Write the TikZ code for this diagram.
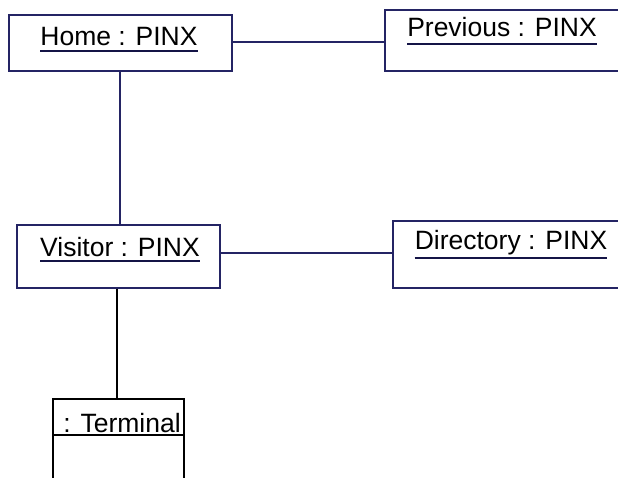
\documentclass[tikz,border=0pt]{standalone}
\usepackage{fontspec}
\setmainfont{Liberation Sans}
\definecolor{navy}{RGB}{36,36,100}
\definecolor{ulnavy}{RGB}{20,20,70}
\begin{document}
\begin{tikzpicture}[x=1pt,y=-1pt,
  objbox/.style={draw=navy,line width=1.4pt,rectangle,inner sep=0pt},
  lbl/.style={inner sep=0pt,anchor=base,font=\fontsize{26.5}{30}\selectfont},
  conn/.style={draw=navy,line width=1.4pt},
  uline/.style={draw=ulnavy,line width=2.6pt}]
\useasboundingbox (0,0) rectangle (618,478);
\clip (0,0) rectangle (618,478);
\fill[white] (0,0) rectangle (618,478);
% boxes
\node[objbox,minimum width=223pt,minimum height=56pt] (home) at (120.5,43) {};
\node[objbox,minimum width=255pt,minimum height=61pt] (prev) at (512.5,40.5) {};
\node[objbox,minimum width=203pt,minimum height=63pt] (visitor) at (118.5,256.5) {};
\node[objbox,minimum width=247pt,minimum height=67pt] (dir) at (516.5,254.5) {};
\node[draw=black,line width=1.4pt,rectangle,inner sep=0pt,minimum width=131pt,minimum height=100pt] (term) at (118.5,449) {};
\coordinate (divl) at (53,435);
\coordinate (divr) at (184,435);
\draw[black,line width=1.4pt] (divl) -- (divr);
% labels
\node[lbl] (homet) at (119,46) {Home : PINX};
\node[lbl] (prevt) at (502,37) {Previous : PINX};
\node[lbl] (visitort) at (120,257) {Visitor : PINX};
\node[lbl] (dirt) at (511,250) {Directory : PINX};
\node[lbl] (termt) at (122,432) {: Terminal};
% underlines
\draw[uline] ([yshift=-5pt]homet.base west) -- ([yshift=-5pt]homet.base east);
\draw[uline] ([yshift=-7pt]prevt.base west) -- ([yshift=-7pt]prevt.base east);
\draw[uline] ([yshift=-4pt]visitort.base west) -- ([yshift=-4pt]visitort.base east);
\draw[uline] ([yshift=-8pt]dirt.base west) -- ([yshift=-8pt]dirt.base east);
% connectors
\draw[conn] ([yshift=1pt]home.east) -- ([yshift=1pt]home.east -| prev.west);
\draw[conn] ([xshift=-0.5pt]home.south) -- ([xshift=-0.5pt]home.south |- visitor.north);
\draw[conn] ([yshift=3.5pt]visitor.east) -- ([yshift=3.5pt]visitor.east -| dir.west);
\draw[black,line width=1.4pt] ([xshift=-1.5pt]visitor.south) -- ([xshift=-1.5pt]visitor.south |- term.north);
\end{tikzpicture}
\end{document}
